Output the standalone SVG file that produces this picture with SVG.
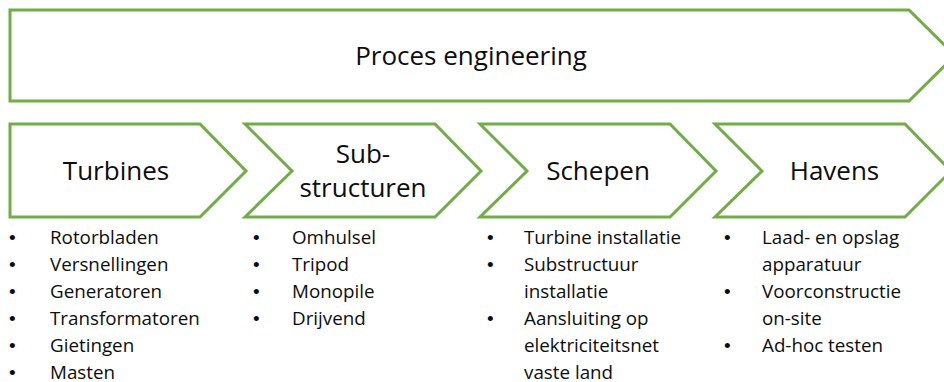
<svg xmlns="http://www.w3.org/2000/svg" width="944" height="382" viewBox="0 0 944 382">
  <style>
    .shape { fill: #ffffff; stroke: #70ad47; stroke-width: 3; stroke-linejoin: miter; }
    .head { font-family: "Open Sans", "Liberation Sans", sans-serif; font-size: 26px; fill: #0d0d0d; text-anchor: middle; }
    .item { font-family: "Open Sans", "Liberation Sans", sans-serif; font-size: 18.8px; fill: #0d0d0d; }
    .dot { font-family: "Liberation Sans", Arial, sans-serif; font-size: 19px; fill: #0d0d0d; }
  </style>
  <rect width="944" height="382" fill="#ffffff"/>

  <!-- overall process arrow -->
  <g id="proces-engineering">
    <polygon class="shape" points="10,10 909,10 955,55.5 909,101 10,101"/>
    <text class="head" x="471" y="65">Proces engineering</text>
  </g>

  <!-- stage 1 -->
  <g id="turbines">
    <polygon class="shape" points="10,124 200,124 246,171 200,217 10,217"/>
    <text class="head" x="116" y="180">Turbines</text>
    <g class="dot"><text x="9" y="244">•</text><text x="9" y="271">•</text><text x="9" y="298">•</text><text x="9" y="325">•</text><text x="9" y="352">•</text><text x="9" y="379">•</text></g>
    <text class="item" x="50" y="244">Rotorbladen</text>
    <text class="item" x="50" y="271">Versnellingen</text>
    <text class="item" x="50" y="298">Generatoren</text>
    <text class="item" x="50" y="325">Transformatoren</text>
    <text class="item" x="50" y="352">Gietingen</text>
    <text class="item" x="50" y="379">Masten</text>
  </g>

  <!-- stage 2 -->
  <g id="substructuren">
    <polygon class="shape" points="245,124 435,124 481,171 435,217 245,217 292,171"/>
    <text class="head" x="363" y="163">Sub-</text>
    <text class="head" x="363" y="197">structuren</text>
    <g class="dot"><text x="253" y="244">•</text><text x="253" y="271">•</text><text x="253" y="298">•</text><text x="253" y="325">•</text></g>
    <text class="item" x="292" y="244">Omhulsel</text>
    <text class="item" x="292" y="271">Tripod</text>
    <text class="item" x="292" y="298">Monopile</text>
    <text class="item" x="292" y="325">Drijvend</text>
  </g>

  <!-- stage 3 -->
  <g id="schepen">
    <polygon class="shape" points="480,124 670,124 716,171 670,217 480,217 527,171"/>
    <text class="head" x="598" y="180">Schepen</text>
    <g class="dot"><text x="487" y="244">•</text><text x="487" y="271">•</text><text x="487" y="325">•</text></g>
    <text class="item" x="524" y="244">Turbine installatie</text>
    <text class="item" x="524" y="271">Substructuur</text>
    <text class="item" x="524" y="298">installatie</text>
    <text class="item" x="524" y="325">Aansluiting op</text>
    <text class="item" x="524" y="352">elektriciteitsnet</text>
    <text class="item" x="524" y="379">vaste land</text>
  </g>

  <!-- stage 4 -->
  <g id="havens">
    <polygon class="shape" points="715,124 905,124 951,171 905,217 715,217 762,171"/>
    <text class="head" x="834.5" y="180">Havens</text>
    <g class="dot"><text x="724" y="244">•</text><text x="724" y="298">•</text><text x="724" y="352">•</text></g>
    <text class="item" x="762" y="244">Laad- en opslag</text>
    <text class="item" x="762" y="271">apparatuur</text>
    <text class="item" x="762" y="298">Voorconstructie</text>
    <text class="item" x="762" y="325">on-site</text>
    <text class="item" x="762" y="352">Ad-hoc testen</text>
  </g>
</svg>
